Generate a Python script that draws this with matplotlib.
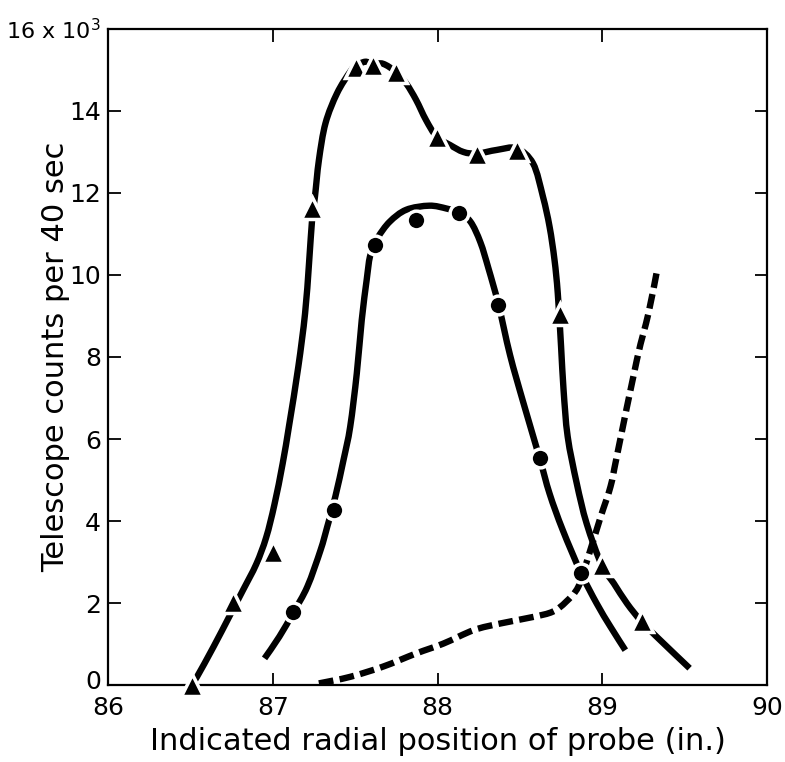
import numpy as np
import matplotlib
matplotlib.use("Agg")
import matplotlib.pyplot as plt
import matplotlib.transforms as mtransforms
from matplotlib.path import Path
from matplotlib.patches import PathPatch

# measured points (triangles and circles)
tri_x = [86.51, 86.76, 87.00, 87.24, 87.505, 87.61, 87.745, 87.995, 88.24, 88.48, 88.743, 88.996, 89.24]
tri_y = [0.0, 2.03, 3.25, 11.63, 15.08, 15.12, 14.96, 13.37, 12.96, 13.06, 9.06, 2.93, 1.57]
dot_x = [87.125, 87.37, 87.62, 87.87, 88.13, 88.37, 88.62, 88.87]
dot_y = [1.77, 4.27, 10.72, 11.34, 11.52, 9.28, 5.53, 2.74]

# hand drawn curves
curveA_x = [86.51, 86.54, 86.64, 86.74, 86.82, 86.90, 86.96, 87.01, 87.06, 87.10, 87.155, 87.196,
            87.22, 87.24, 87.256, 87.28, 87.32, 87.39, 87.47, 87.505, 87.56, 87.61, 87.67,
            87.745, 87.81, 87.87, 87.93, 87.995, 88.076, 88.157, 88.24, 88.36, 88.48, 88.58,
            88.64, 88.68, 88.71, 88.73, 88.75, 88.765, 88.79, 88.845, 88.905, 88.996,
            89.07, 89.15, 89.24, 89.35, 89.53]
curveA_y = [0.02, 0.2, 0.93, 1.7, 2.32, 2.95, 3.6, 4.4, 5.4, 6.35, 7.76, 9.06,
            10.28, 11.42, 11.91, 12.8, 13.7, 14.43, 14.96, 15.1, 15.2, 15.15, 15.15,
            14.96, 14.67, 14.27, 13.78, 13.37, 13.17, 13.0, 12.96, 13.05, 13.09, 12.72,
            11.91, 11.18, 10.37, 9.55, 8.25, 7.2, 6.06, 4.92, 3.94, 2.93,
            2.48, 1.99, 1.54, 1.1, 0.41]

curveB_x = [86.95, 87.04, 87.125, 87.21, 87.29, 87.33, 87.38, 87.43, 87.47, 87.51, 87.54, 87.57,
            87.59, 87.62, 87.64, 87.71, 87.81, 87.95, 88.055, 88.13, 88.20, 88.26, 88.31,
            88.37, 88.44, 88.52, 88.62, 88.68, 88.76, 88.87, 88.966, 89.05, 89.14]
curveB_y = [0.65, 1.18, 1.77, 2.4, 3.29, 3.85, 4.6, 5.5, 6.3, 7.6, 8.9, 9.88,
            10.45, 10.72, 10.93, 11.3, 11.59, 11.69, 11.62, 11.52, 11.3, 10.8, 10.15,
            9.28, 8.05, 6.9, 5.53, 4.67, 3.78, 2.74, 1.99, 1.42, 0.85]

curveC_x = [87.28, 87.47, 87.67, 87.87, 88.035, 88.22, 88.38, 88.58, 88.70, 88.78, 88.855,
            88.915, 88.99, 89.05, 89.09, 89.21, 89.28, 89.33]
curveC_y = [0.04, 0.2, 0.45, 0.77, 1.01, 1.34, 1.5, 1.66, 1.79, 2.03, 2.4,
            3.13, 4.1, 4.84, 5.61, 7.93, 9.06, 10.06]

xticks = [86, 87, 88, 89, 90]
yticks = [0, 2, 4, 6, 8, 10, 12, 14, 16]
ylabels = ['0', '2', '4', '6', '8', '10', '12', '14', '16 x 10$^3$']


def smooth_path(xs, ys):
    # catmull-rom through the traced points, drawn as cubic beziers
    p = np.column_stack([xs, ys])
    verts = [p[0]]
    codes = [Path.MOVETO]
    n = len(p)
    for i in range(n - 1):
        p0 = p[i - 1] if i > 0 else p[i]
        p3 = p[i + 2] if i + 2 < n else p[i + 1]
        c1 = p[i] + (p[i + 1] - p0) / 6.0
        c2 = p[i + 1] - (p3 - p[i]) / 6.0
        verts += [c1, c2, p[i + 1]]
        codes += [Path.CURVE4] * 3
    return Path(verts, codes)


fig = plt.figure(figsize=(7.85, 7.62), dpi=100)
ax = fig.add_axes([0.1376, 0.101, 0.8395, 0.861])

lw = 4.6
ax.add_patch(PathPatch(smooth_path(curveA_x, curveA_y), fill=False, ec='black', lw=lw,
                       capstyle='butt', zorder=2))
ax.add_patch(PathPatch(smooth_path(curveB_x, curveB_y), fill=False, ec='black', lw=lw,
                       capstyle='butt', zorder=2))
ax.add_patch(PathPatch(smooth_path(curveC_x, curveC_y), fill=False, ec='black', lw=lw,
                       linestyle=(0, (2.3, 1.0)), capstyle='butt', zorder=2))

ax.plot(tri_x, tri_y, linestyle='none', marker='^', ms=16, color='black',
        mec='white', mew=2.5, zorder=3, clip_on=False)
ax.plot(dot_x, dot_y, linestyle='none', marker='o', ms=13.5, color='black',
        mec='white', mew=2.5, zorder=3, clip_on=False)

ax.set_xlim(86, 90)
ax.set_ylim(0, 16)
ax.set_xticks(xticks)
ax.set_yticks(yticks)
ax.set_yticklabels(ylabels)
ax.tick_params(direction='in', length=9, width=1.3, top=True, right=True,
               labelsize=18)
ax.tick_params(axis='x', pad=8)
ax.tick_params(axis='y', pad=5)
ylab = ax.get_yticklabels()
ylab[-1].set_fontsize(16)
# the zero sits a little above the axis in the original
ylab[0].set_transform(ylab[0].get_transform() +
                      mtransforms.ScaledTranslation(0, 6 / 100, fig.dpi_scale_trans))
for s in ax.spines.values():
    s.set_linewidth(1.6)

ax.set_xlabel('Indicated radial position of probe (in.)', fontsize=22, labelpad=5)
ax.set_ylabel('Telescope counts per 40 sec', fontsize=22)
ax.yaxis.set_label_coords(-0.058, 0.5)

fig.savefig('out.png', dpi=100)
